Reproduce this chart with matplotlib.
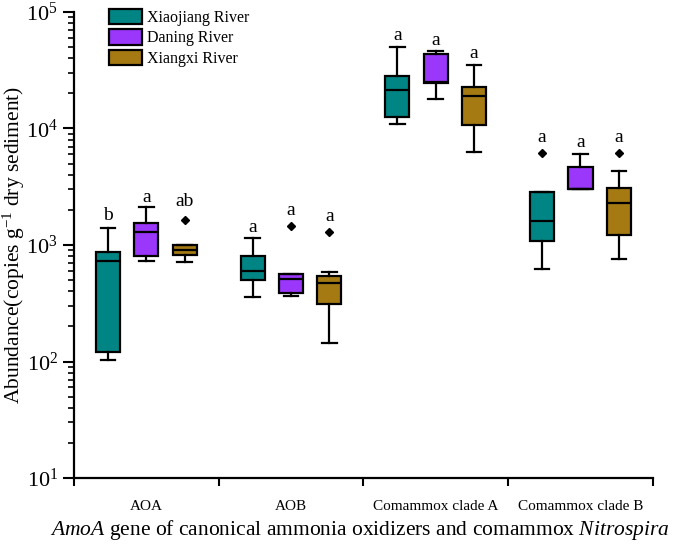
import matplotlib
matplotlib.use("Agg")
import matplotlib.pyplot as plt
from matplotlib.patches import Patch
from matplotlib.ticker import FixedLocator, NullFormatter, LogLocator

plt.rcParams['font.family'] = ['Liberation Serif', 'DejaVu Serif']
plt.rcParams['mathtext.fontset'] = 'custom'
plt.rcParams['mathtext.rm'] = 'Liberation Serif'
plt.rcParams['mathtext.it'] = 'Liberation Serif:italic'

categories = ["AOA", "AOB", "Comammox clade A", "Comammox clade B"]
rivers = ["Xiaojiang River", "Daning River", "Xiangxi River"]
colors = ["#008584", "#9B37FA", "#A57A12"]

# per river: per category [whislo, q1, median, q3, whishi]
xiaojiang = [[103, 120, 730, 865, 1410],
             [356, 501, 602, 800, 1148],
             [11000, 12500, 21500, 28400, 50100],
             [627, 1076, 1620, 2830, 2830]]
daning = [[730, 805, 1285, 1535, 2130],
          [367, 385, 507, 560, 560],
          [17900, 24400, 25200, 43500, 46300],
          [3030, 3030, 3050, 4700, 6040]]
xiangxi = [[720, 820, 906, 1000, 1000],
           [143, 312, 469, 542, 583],
           [6320, 10650, 19000, 22600, 34800],
           [762, 1210, 2280, 3070, 4320]]
outliers = {"Xiaojiang River": [[], [], [], [6190]],
            "Daning River": [[], [1455], [], []],
            "Xiangxi River": [[1630], [1285], [], [6190]]}
letters = {"Xiaojiang River": ["b", "a", "a", "a"],
           "Daning River": ["a", "a", "a", "a"],
           "Xiangxi River": ["ab", "a", "a", "a"]}
letter_y = {"Xiaojiang River": [1807, 1400, 62300, 8450],
            "Daning River": [2580, 1960, 56400, 7510],
            "Xiangxi River": [2340, 1740, 43600, 8450]}

data = {"Xiaojiang River": xiaojiang, "Daning River": daning, "Xiangxi River": xiangxi}

fig = plt.figure(figsize=(6.85, 5.44), dpi=100)
ax = fig.add_axes([0.108, 0.1213, 0.845, 0.8567])

offset = 0.265
width = 0.167
for r, river in enumerate(rivers):
    stats = []
    for c in range(len(categories)):
        lo, q1, med, q3, hi = data[river][c]
        stats.append(dict(whislo=lo, q1=q1, med=med, q3=q3, whishi=hi,
                          fliers=outliers[river][c]))
    pos = [c + (r - 1) * offset for c in range(len(categories))]
    ax.bxp(stats, positions=pos, widths=width, patch_artist=True,
           capwidths=width * 0.6,
           boxprops=dict(facecolor=colors[r], edgecolor='black', linewidth=1.6),
           medianprops=dict(color='black', linewidth=1.6),
           whiskerprops=dict(color='black', linewidth=1.6),
           capprops=dict(color='black', linewidth=1.6),
           flierprops=dict(marker='D', markerfacecolor='black', markeredgecolor='black',
                           markersize=4.5))
    for c in range(len(categories)):
        ax.text(pos[c], letter_y[river][c], letters[river][c], ha='center', va='center',
                fontsize=14)

ax.set_yscale('log')
ax.set_ylim(10, 1e5)
ax.set_xlim(-0.5, len(categories) - 0.5)
ax.xaxis.set_major_locator(FixedLocator([i - 0.5 for i in range(len(categories) + 1)]))
ax.xaxis.set_major_formatter(NullFormatter())
ax.xaxis.set_minor_locator(FixedLocator(list(range(len(categories)))))
ax.set_xticklabels(categories, minor=True, fontsize=11)
ax.tick_params(axis='x', which='minor', length=0, pad=16)
ax.tick_params(axis='x', which='major', length=6, width=1.5, direction='out')
ax.tick_params(axis='y', which='major', length=8, width=1.5, direction='out', labelsize=16)
ax.tick_params(axis='y', which='minor', length=4, width=1.2, direction='out')
ax.yaxis.set_minor_locator(LogLocator(base=10, subs=range(2, 10)))

for s in ['top', 'right']:
    ax.spines[s].set_visible(False)
for s in ['left', 'bottom']:
    ax.spines[s].set_linewidth(1.6)

ax.set_ylabel(r"Abundance(copies g$^{-1}$ dry sediment)", fontsize=15.5)
ax.yaxis.set_label_coords(-0.081, 0.5)
ax.set_xlabel(r"$\mathit{AmoA}$ gene of canonical ammonia oxidizers and comammox $\mathit{Nitrospira}$",
              fontsize=15.5, labelpad=4)
ax.xaxis.set_label_coords(0.494, -0.085)

handles = [Patch(facecolor=colors[i], edgecolor='black', linewidth=1.6, label=rivers[i])
           for i in range(3)]
ax.legend(handles=handles, loc='upper left', bbox_to_anchor=(0.049, 1.02), frameon=False,
          fontsize=11.5, handlelength=2.1, handleheight=1.1, handletextpad=0.3,
          labelspacing=0.2, borderaxespad=0)

fig.savefig("out.png", dpi=100)
